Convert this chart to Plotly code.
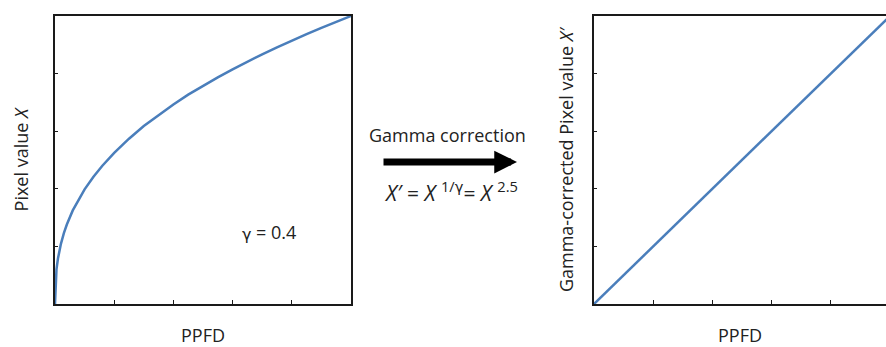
import plotly.graph_objects as go

# Left panel: pixel value X vs PPFD (% of full scale)
ppfd_left = [0, 0.2, 0.5, 1, 2, 3, 4, 6, 8, 10, 13, 16, 20, 25, 30, 35, 40, 45,
             50, 55, 60, 65, 70, 75, 80, 85, 90, 95, 100]
pixel_x = [0, 8.3, 12, 15.8, 20.9, 24.6, 27.6, 32.5, 36.4, 39.8, 44.2, 48, 52.5,
           57.4, 61.8, 65.7, 69.3, 72.7, 75.8, 78.7, 81.5, 84.2, 86.7, 89.1,
           91.5, 93.7, 95.9, 98, 100]

# Right panel: gamma-corrected pixel value X' vs PPFD
ppfd_right = [0, 100]
pixel_x_corr = [0, 100]

tick_vals = [0, 20, 40, 60, 80, 100]

W, H = 886, 347
FONT = "Open Sans"
GFONT = "DejaVu Sans"
BLUE = "#4a7ebb"
AX = "#1a1a1a"
TXT = "#222"

fig = go.Figure()
fig.add_trace(go.Scatter(x=ppfd_left, y=pixel_x, mode="lines",
                         line=dict(color=BLUE, width=2.5),
                         xaxis="x", yaxis="y", showlegend=False))
fig.add_trace(go.Scatter(x=ppfd_right, y=pixel_x_corr, mode="lines",
                         line=dict(color=BLUE, width=2.5),
                         xaxis="x2", yaxis="y2", showlegend=False))

ydom = [1 - 304 / H, 1 - 16 / H]
common_x = dict(showline=True, linecolor=AX, linewidth=1.5, ticks="inside",
                ticklen=4, tickcolor=AX, tickwidth=1, showticklabels=False,
                showgrid=False, zeroline=False, tickvals=tick_vals,
                title=dict(text="PPFD", font=dict(size=18, color=TXT, family=FONT),
                           standoff=29))
common_y = dict(showline=True, linecolor=AX, linewidth=1.5, ticks="inside",
                ticklen=3, tickcolor=AX, tickwidth=1, showticklabels=False,
                showgrid=False, zeroline=False, tickvals=tick_vals, range=[0, 100])

fig.update_layout(
    width=W, height=H,
    margin=dict(l=0, r=0, t=0, b=0),
    paper_bgcolor="white", plot_bgcolor="white",
    font=dict(family=FONT, color=TXT),
    xaxis=dict(domain=[55 / W, 351 / W], range=[0, 100], mirror=True,
               anchor="y", **common_x),
    yaxis=dict(domain=ydom, anchor="x", mirror=True,
               title=dict(text="Pixel value <i>X</i>",
                          font=dict(size=18, color=TXT, family=FONT), standoff=20),
               **common_y),
    xaxis2=dict(domain=[594 / W, 1.0], range=[0, 100 * 292 / 296], mirror=True,
                anchor="y2", **common_x),
    yaxis2=dict(domain=ydom, anchor="x2", mirror=False,
                title=dict(text="Gamma-corrected Pixel value <i>X′</i>",
                           font=dict(size=18, color=TXT, family=FONT), standoff=14),
                **common_y),
)

# gamma label in left panel (gamma glyph + value)
fig.add_annotation(x=253 / W, y=1 - 246 / H, xref="paper", yref="paper",
                   xanchor="right", text="γ", showarrow=False,
                   font=dict(size=16, color=TXT, family=GFONT))
fig.add_annotation(x=254 / W, y=1 - 246 / H, xref="paper", yref="paper",
                   xanchor="left", text="= 0.4", showarrow=False,
                   font=dict(size=18, color=TXT, family=FONT))

# Arrow between panels
fig.add_annotation(x=517 / W, y=1 - 162 / H, xref="paper", yref="paper",
                   ax=-135, ay=0, text="", showarrow=True,
                   arrowhead=2, arrowsize=0.65, arrowwidth=7, arrowcolor="black",
                   standoff=0)
fig.add_annotation(x=447 / W, y=1 - 135 / H, xref="paper", yref="paper",
                   text="Gamma correction", showarrow=False,
                   font=dict(size=18, color=TXT, family=FONT))
fig.add_annotation(x=451 / W, y=1 - 191 / H, xref="paper", yref="paper",
                   text="<i>X′</i> = <i>X</i> <sup>1/<span style='font-family:DejaVu Sans'>γ</span></sup>= <i>X</i> <sup>2.5</sup>",
                   showarrow=False,
                   font=dict(size=21, color=TXT, family=FONT))

fig.write_html("out.html", config={"displayModeBar": False},
               post_script="document.body.style.margin='0';document.body.style.overflow='hidden';")
